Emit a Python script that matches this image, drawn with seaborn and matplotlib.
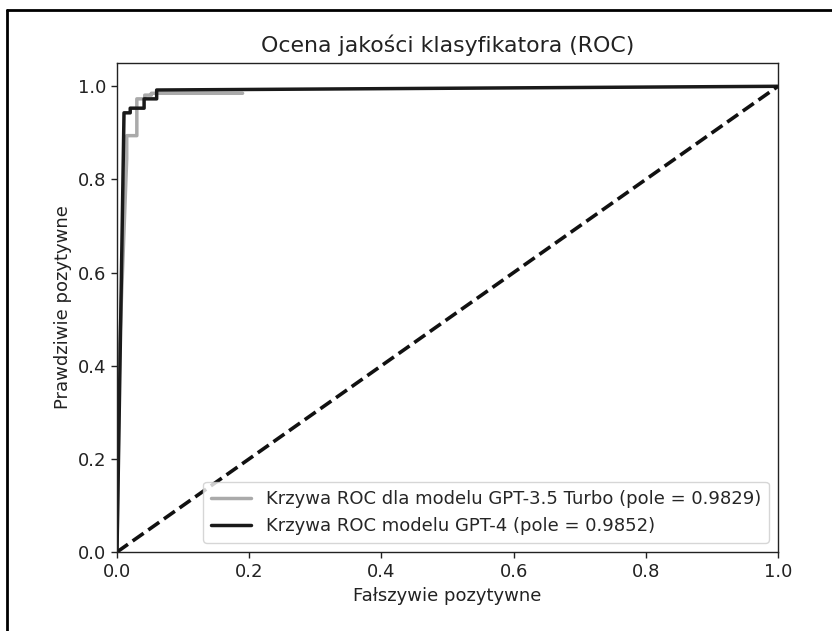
import matplotlib
matplotlib.use("Agg")
import matplotlib.pyplot as plt
from matplotlib.lines import Line2D
import seaborn as sns
import pandas as pd

# data
fpr_gpt35 = [0.0, 0.004, 0.0147, 0.0147, 0.030, 0.030, 0.042, 0.042, 0.052, 0.052, 0.19]
tpr_gpt35 = [0.0, 0.44, 0.845, 0.894, 0.894, 0.973, 0.973, 0.981, 0.981, 0.985, 0.985]
fpr_gpt4 = [0.0, 0.0106, 0.020, 0.020, 0.041, 0.041, 0.060, 0.060, 1.0]
tpr_gpt4 = [0.0, 0.943, 0.943, 0.953, 0.953, 0.973, 0.973, 0.992, 1.0]
diag_x = [0.0, 1.0]
diag_y = [0.0, 1.0]
label_gpt35 = "Krzywa ROC dla modelu GPT-3.5 Turbo (pole = 0.9829)"
label_gpt4 = "Krzywa ROC modelu GPT-4 (pole = 0.9852)"
title = "Ocena jakości klasyfikatora (ROC)"
xlabel = "Fałszywie pozytywne"
ylabel = "Prawdziwie pozytywne"

sns.set_style("ticks")
plt.rcParams['font.family'] = ['DejaVu Sans']

fig = plt.figure(figsize=(8.32, 6.31), dpi=100)
ax = fig.add_axes([117/832, 1 - 552/631, (778-117)/832, (552-63)/631])

df35 = pd.DataFrame({"x": fpr_gpt35, "y": tpr_gpt35})
df4 = pd.DataFrame({"x": fpr_gpt4, "y": tpr_gpt4})
dfd = pd.DataFrame({"x": diag_x, "y": diag_y})

sns.lineplot(data=df35, x="x", y="y", sort=False, estimator=None, color="#aaaaaa",
             lw=2.5, ax=ax, label=label_gpt35)
sns.lineplot(data=df4, x="x", y="y", sort=False, estimator=None, color="#1a1a1a",
             lw=2.5, ax=ax, label=label_gpt4)
ax.plot(dfd["x"], dfd["y"], color="#111111", lw=2.6, ls=(0, (3.7, 1.6)))

ax.set_xlim(0, 1.0)
ax.set_ylim(0, 1.05)
ax.set_xticks([0, 0.2, 0.4, 0.6, 0.8, 1.0])
ax.set_yticks([0, 0.2, 0.4, 0.6, 0.8, 1.0])
ax.tick_params(labelsize=13, length=4.5, width=1.0, colors="#222222")
for s in ax.spines.values():
    s.set_linewidth(1.0)
    s.set_color("#222222")
ax.set_title(title, fontsize=15.8, color="#222222", pad=8)
ax.set_xlabel(xlabel, fontsize=13, color="#222222")
ax.set_ylabel(ylabel, fontsize=13, color="#222222")
ax.legend(loc="lower right", fontsize=13, frameon=True, framealpha=0.8,
          handlelength=2.2, borderpad=0.45, labelspacing=0.5)

# partial page border (top and left)
fig.add_artist(Line2D([7/832, 7/832], [0, 1 - 10/631], transform=fig.transFigure, color="black", lw=2))
fig.add_artist(Line2D([7/832, 1], [1 - 10/631, 1 - 10/631], transform=fig.transFigure, color="black", lw=2))

fig.savefig("out.png", dpi=100)
